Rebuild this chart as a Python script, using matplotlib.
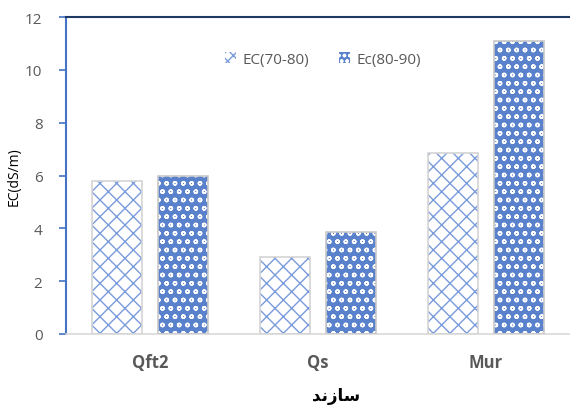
import matplotlib
matplotlib.use('Agg')
import matplotlib.pyplot as plt
from matplotlib.patches import Patch
import numpy as np

categories = ['Qft2', 'Qs', 'Mur']
ec_70_80 = [5.78, 2.92, 6.86]
ec_80_90 = [5.97, 3.86, 11.1]
series_labels = ['EC(70-80)', 'Ec(80-90)']
y_ticks = [0, 2, 4, 6, 8, 10, 12]
# "سازند" written as shaped presentation forms in visual order
x_title = '\uFEAA\uFEE7\uFEAF\uFE8E\uFEB3'

plt.rcParams['font.family'] = ['Open Sans', 'DejaVu Sans']
plt.rcParams['hatch.linewidth'] = 1.0

blue = '#4472C4'
grey_txt = '#595959'

fig = plt.figure(figsize=(5.7, 4.1), dpi=100)
ax = fig.add_axes([0.1158, 0.183, 0.8842, 0.773])

x = np.arange(len(categories))
w = 0.30
off = 0.195

# first series: white with thin blue lattice
ax.bar(x - off, ec_70_80, w, facecolor='white', edgecolor='#7A9BDB',
       hatch='xx', linewidth=0, zorder=2)
ax.bar(x - off, ec_70_80, w, fill=False, edgecolor='#d4d4d4', linewidth=1.2, zorder=3)
# second series: packed blue spheres on white
ax.bar(x + off, ec_80_90, w, facecolor='#5A82CC', edgecolor='white',
       hatch='oo', linewidth=0, zorder=2)
ax.bar(x + off, ec_80_90, w, fill=False, edgecolor='#c8c8c8', linewidth=1.2, zorder=3)

ax.set_xlim(-0.5, 2.5)
ax.set_ylim(0, 12)
ax.set_yticks(y_ticks)
ax.set_xticks(x)
ax.set_xticklabels(categories, fontsize=12, fontweight='bold', color=grey_txt)
ax.tick_params(axis='x', length=0, pad=14)
ax.tick_params(axis='y', direction='out', length=5, width=1.2, color=blue,
               labelsize=11, labelcolor=grey_txt, pad=12)

ax.spines['left'].set_color(blue)
ax.spines['left'].set_linewidth(1.5)
ax.spines['top'].set_color('#1F3864')
ax.spines['top'].set_linewidth(1.5)
ax.spines['bottom'].set_color('#d9d9d9')
ax.spines['bottom'].set_linewidth(1.2)
ax.spines['right'].set_visible(False)

ax.set_ylabel('EC(dS/m)', fontsize=10, color='black', labelpad=2)
ax.set_xlabel(x_title, fontsize=12, fontweight='bold', family='DejaVu Sans')
ax.xaxis.set_label_coords(0.535, -0.165)

handles = [Patch(facecolor='white', edgecolor='#7A9BDB', hatch='xxx', linewidth=0),
           Patch(facecolor='#5A82CC', edgecolor='white', hatch='ooo', linewidth=0)]
leg = ax.legend(handles, series_labels, loc='center', bbox_to_anchor=(0.51, 0.867),
                ncol=2, frameon=False, fontsize=11, handlelength=0.7,
                handleheight=0.7, columnspacing=2.0, handletextpad=0.4)
for t in leg.get_texts():
    t.set_color(grey_txt)

fig.savefig('out.png', dpi=100)
